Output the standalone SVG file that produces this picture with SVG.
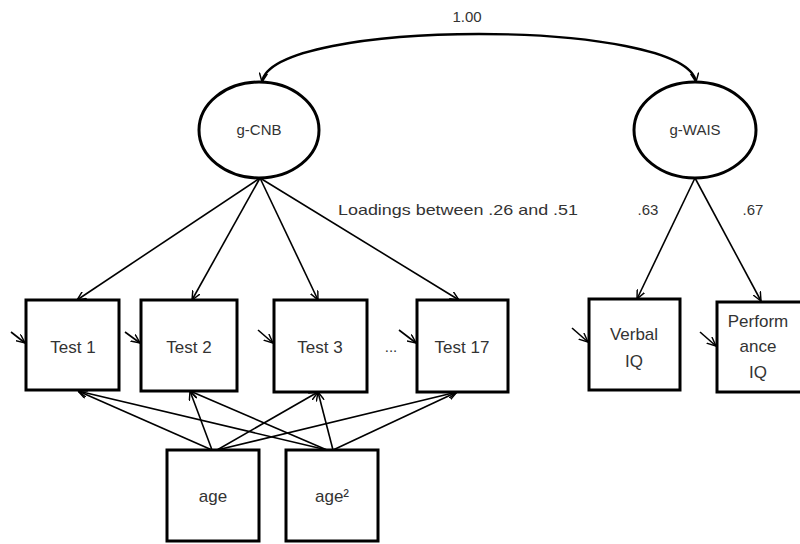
<svg xmlns="http://www.w3.org/2000/svg" width="800" height="544" viewBox="0 0 800 544">
  <defs>
    <marker id="arr" viewBox="0 0 10 10" refX="10" refY="5" markerWidth="9" markerHeight="9" orient="auto-start-reverse" markerUnits="userSpaceOnUse">
      <path d="M0,0.5 L10,5 L0,9.5" fill="none" stroke="#000" stroke-width="1.6"/>
    </marker>
    <style>
      .box { fill: #fff; stroke: #000; stroke-width: 3; }
      .lat { fill: #fff; stroke: #000; stroke-width: 3; }
      .lbl { font-family: "Liberation Sans", Arial, sans-serif; fill: #333; text-anchor: middle; }
      .node { font-size: 17px; }
      .small { font-size: 15px; }
      .con { fill: none; stroke: #000; stroke-width: 1.6; marker-end: url(#arr); }
      .cov { stroke-width: 2.4; }
    </style>
  </defs>
  <rect width="800" height="544" fill="#fff"/>

  <!-- connectors -->
  <g id="connectors">
    <!-- latent correlation -->
    <path class="con cov" d="M262,82 C272,18 686,18 696,82" marker-start="url(#arr)"/>
    <!-- g-CNB loadings -->
    <line class="con" x1="260" y1="178" x2="77" y2="300"/>
    <line class="con" x1="260" y1="178" x2="192" y2="300"/>
    <line class="con" x1="260" y1="178" x2="318" y2="300"/>
    <line class="con" x1="260" y1="178" x2="459" y2="300"/>
    <!-- g-WAIS loadings -->
    <line class="con" x1="695" y1="178" x2="637" y2="299"/>
    <line class="con" x1="695" y1="178" x2="761" y2="301"/>
    <!-- age covariates -->
    <line class="con" x1="212" y1="450" x2="78" y2="391"/>
    <line class="con" x1="212" y1="450" x2="190" y2="391"/>
    <line class="con" x1="217" y1="450" x2="318" y2="392"/>
    <line class="con" x1="217" y1="450" x2="457" y2="392"/>
    <line class="con" x1="327" y1="450" x2="78" y2="391"/>
    <line class="con" x1="327" y1="450" x2="190" y2="391"/>
    <line class="con" x1="333" y1="450" x2="318" y2="392"/>
    <line class="con" x1="333" y1="450" x2="457" y2="392"/>
    <!-- residual arrows -->
    <line class="con" x1="11" y1="332" x2="25" y2="343"/>
    <line class="con" x1="125" y1="332" x2="140" y2="343"/>
    <line class="con" x1="258" y1="330" x2="273" y2="343"/>
    <line class="con" x1="399" y1="330" x2="416" y2="343"/>
    <line class="con" x1="572" y1="328" x2="588" y2="342"/>
    <line class="con" x1="700" y1="332" x2="716" y2="346"/>
  </g>

  <!-- latent factors -->
  <g id="g-CNB">
    <ellipse class="lat" cx="259" cy="130" rx="60" ry="48"/>
    <text class="lbl small" x="259" y="135">g-CNB</text>
  </g>
  <g id="g-WAIS">
    <ellipse class="lat" cx="695" cy="130" rx="61" ry="48"/>
    <text class="lbl small" x="695" y="135">g-WAIS</text>
  </g>

  <!-- observed tests -->
  <g id="test1">
    <rect class="box" x="26" y="300" width="93" height="90"/>
    <text class="lbl node" x="73" y="353">Test 1</text>
  </g>
  <g id="test2">
    <rect class="box" x="141" y="300" width="96" height="91"/>
    <text class="lbl node" x="189" y="353">Test 2</text>
  </g>
  <g id="test3">
    <rect class="box" x="274" y="300" width="93" height="92"/>
    <text class="lbl node" x="320" y="353">Test 3</text>
  </g>
  <g id="test17">
    <rect class="box" x="417" y="300" width="91" height="92"/>
    <text class="lbl node" x="462" y="353">Test 17</text>
  </g>
  <g id="verbal-iq">
    <rect class="box" x="589" y="299" width="91" height="91"/>
    <text class="lbl node" x="634" y="340">Verbal</text>
    <text class="lbl node" x="634" y="367">IQ</text>
  </g>
  <g id="performance-iq">
    <rect class="box" x="717" y="302" width="95" height="90"/>
    <text class="lbl node" x="758" y="327">Perform</text>
    <text class="lbl node" x="758" y="352">ance</text>
    <text class="lbl node" x="758" y="378">IQ</text>
  </g>

  <!-- covariates -->
  <g id="age">
    <rect class="box" x="167" y="450" width="92" height="91"/>
    <text class="lbl node" x="213" y="502">age</text>
  </g>
  <g id="age2">
    <rect class="box" x="286" y="450" width="92" height="91"/>
    <text class="lbl node" x="332" y="502">age²</text>
  </g>

  <!-- labels -->
  <text class="lbl small" x="467" y="22">1.00</text>
  <text class="lbl small" x="458" y="215" textLength="240" lengthAdjust="spacingAndGlyphs">Loadings between .26 and .51</text>
  <text class="lbl small" x="648" y="215">.63</text>
  <text class="lbl small" x="753" y="215">.67</text>
  <text class="lbl small" x="391" y="352">...</text>
</svg>
